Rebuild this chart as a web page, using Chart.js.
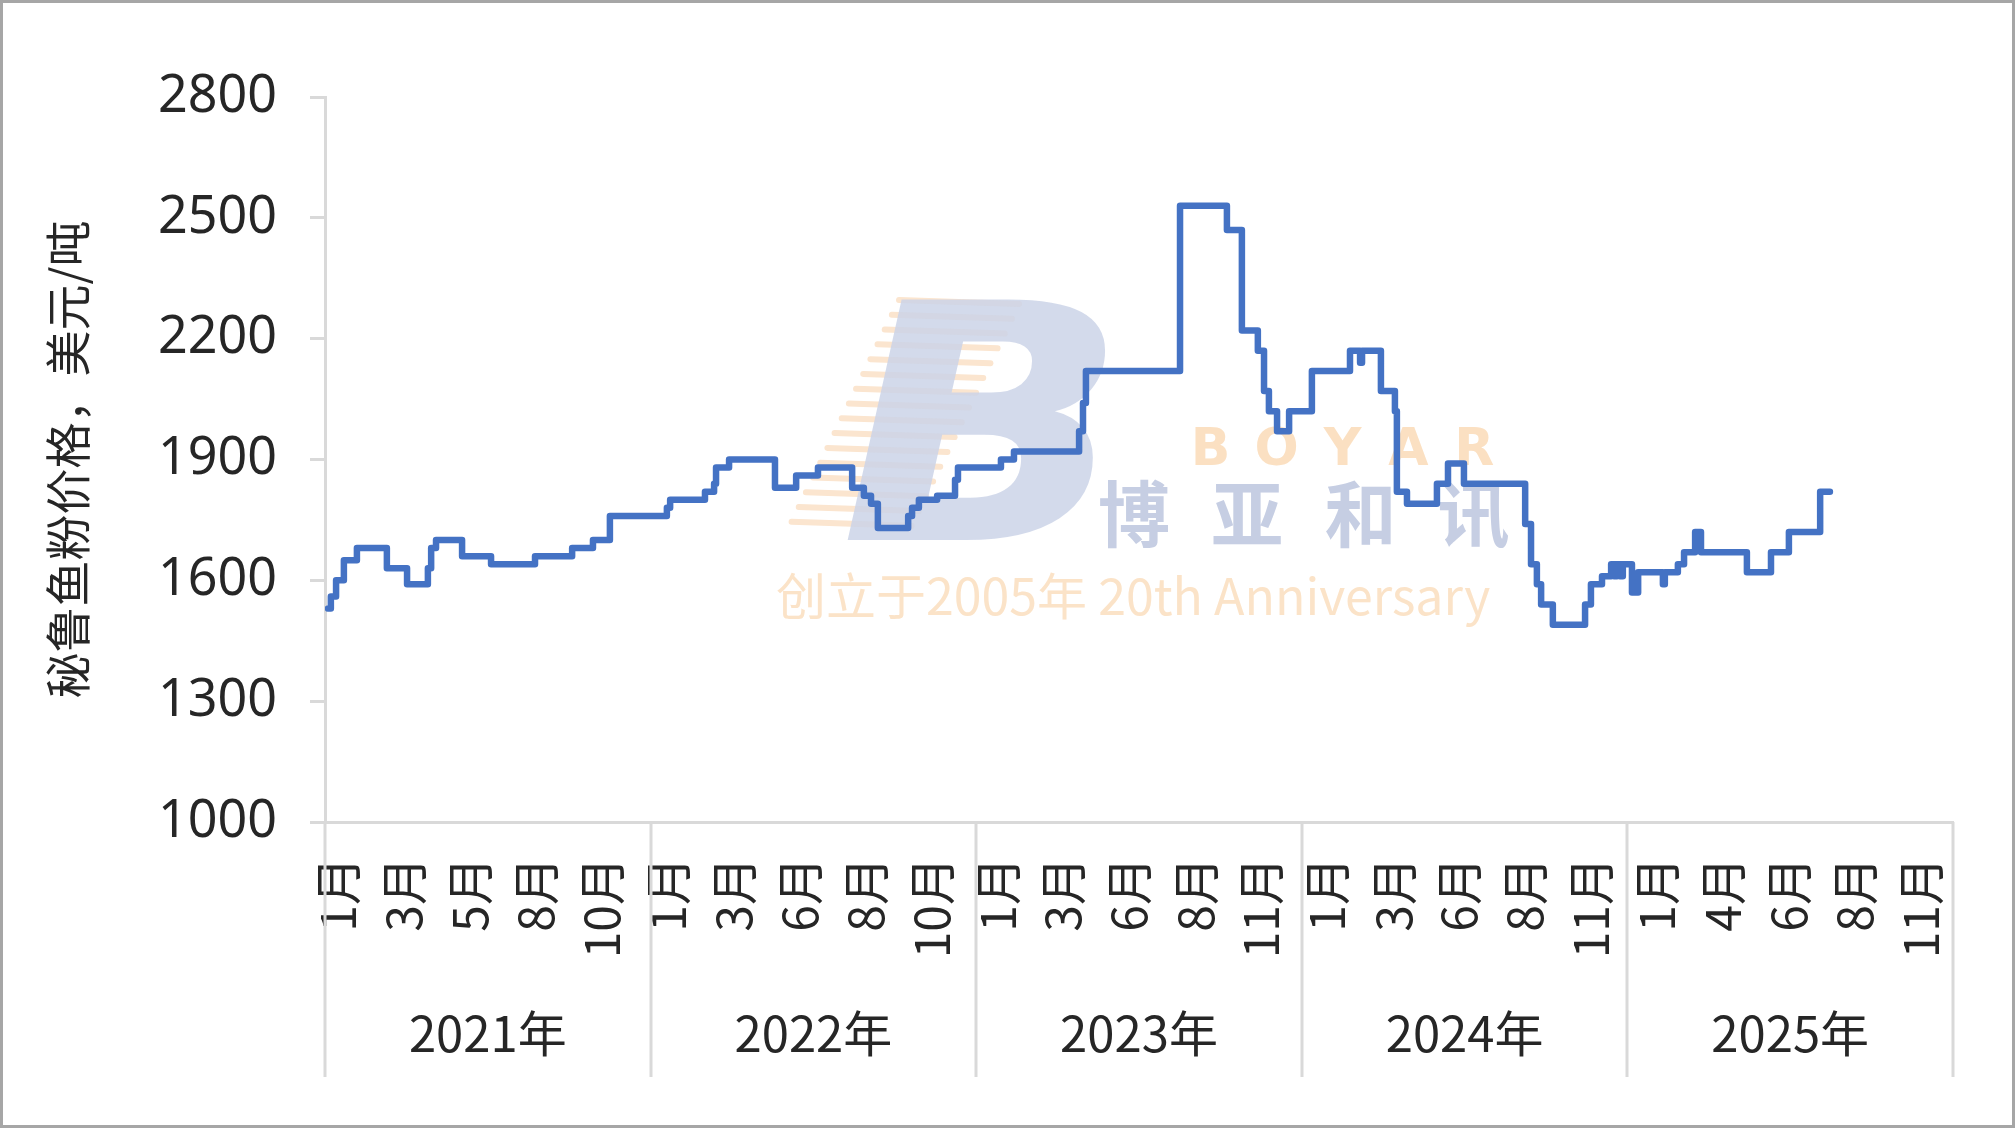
<!DOCTYPE html>
<html><head><meta charset="utf-8">
<script src="https://cdn.jsdelivr.net/npm/chart.js@4.4.1/dist/chart.umd.min.js"></script>
<style>html,body{margin:0;padding:0;background:#fff;}#wrap{width:2015px;height:1128px;}</style>
</head><body><div id="wrap"><canvas id="c" width="2015" height="1128"></canvas></div>
<script>
// x unit: 100 per calendar-year block on the category axis (2021 starts at 0)
const stepX = [0.9,1.8,3.4,5.8,9.8,19.0,25.2,31.6,32.6,34.1,42.1,51.0,64.5,75.9,82.3,87.5,105.0,106.0,116.7,119.5,120.1,124.1,138.2,144.7,151.4,161.9,165.5,167.7,169.8,179.1,180.3,182.4,188.0,193.5,194.4,207.6,211.6,231.6,232.8,233.7,262.6,277.0,281.6,286.5,288.4,289.9,292.4,296.1,303.1,314.8,317.9,318.5,324.3,328.6,329.2,332.3,341.5,344.9,349.8,368.6,370.4,372.2,373.5,377.1,387.0,388.8,392.2,395.0,395.9,396.8,397.7,398.6,401.4,403.3,410.9,411.5,415.5,417.4,420.8,422.6,436.7,444.1,449.6,459.2,462.2];
const price = [1530,1560,1600,1650,1680,1630,1590,1630,1680,1700,1660,1640,1660,1680,1700,1760,1780,1800,1820,1840,1880,1900,1830,1860,1880,1830,1810,1790,1730,1760,1780,1800,1810,1850,1880,1900,1920,1970,2040,2120,2530,2470,2220,2170,2070,2020,1970,2020,2120,2170,2140,2170,2070,2020,1820,1790,1840,1890,1840,1740,1640,1590,1540,1490,1540,1590,1610,1640,1610,1640,1610,1640,1570,1620,1590,1620,1640,1670,1720,1670,1620,1670,1720,1820,1820];
const monthTickPos = [3.8,24.1,44.4,64.6,84.9,105.2,125.4,145.7,166.0,186.2,206.5,226.7,247.0,267.3,287.5,307.8,328.1,348.3,368.6,388.8,409.1,429.4,449.6,469.9,490.2];
const monthLabels = ['1月','3月','5月','8月','10月','1月','3月','6月','8月','10月','1月','3月','6月','8月','11月','1月','3月','6月','8月','11月','1月','4月','6月','8月','11月'];
const yearTickPos = [50,150,250,350,450];
const yearLabels = ['2021年','2022年','2023年','2024年','2025年'];
const yearBounds = [0,100,200,300,400,500];
const yTicks = [1000,1300,1600,1900,2200,2500,2800];

const AXIS = '#d9d9d9';
const TXT = '#262626';
const FONT = '"Noto Sans CJK SC","Noto Sans",sans-serif';
const points = stepX.map((x, i) => ({x: x, y: price[i]}));

const watermark = {
  id: 'watermark',
  beforeDatasetsDraw(chart) {
    const c = chart.ctx, a = chart.chartArea;
    const fx = f => a.left + f * (a.right - a.left);
    const fy = f => a.top + f * (a.bottom - a.top);
    c.save();
    // logo: orange stripes + blue-grey "B"
    c.strokeStyle = '#fbe5cf'; c.lineWidth = 6; c.lineCap = 'round';
    for (let i = 0; i < 16; i++) {
      const y = fy(0.28 + i * 0.0204);
      const x0 = fx(0.3526 - i * 0.0044);
      c.beginPath(); c.moveTo(x0, y); c.lineTo(x0 + 120, y + 4); c.stroke();
    }
    c.fillStyle = 'rgba(203,212,231,0.85)';
    c.font = 'italic bold 330px "DejaVu Sans",sans-serif';
    c.textAlign = 'center'; c.textBaseline = 'alphabetic';
    c.save();
    c.translate(fx(0.405), fy(0.611));
    c.scale(1.15, 1);
    c.fillText('B', 0, 0);
    c.restore();
    c.fillStyle = '#fbe0c2';
    c.font = 'bold 52px "DejaVu Sans",sans-serif';
    ['B','O','Y','A','R'].forEach((ch, i) => c.fillText(ch, fx(0.544 + i * 0.0405), fy(0.507)));
    c.fillStyle = '#c6cee3';
    c.font = 'bold 72px "Noto Sans CJK SC",sans-serif';
    ['博','亚','和','讯'].forEach((ch, i) => c.fillText(ch, fx(0.497 + i * 0.0695), fy(0.612)));
    c.fillStyle = '#fbe3c8';
    c.font = '50px "Noto Sans CJK SC",sans-serif';
    c.textAlign = 'left';
    c.fillText('创立于2005年 20th Anniversary', fx(0.277), fy(0.715));
    c.restore();
  }
};

const separators = {
  id: 'separators',
  afterDraw(chart) {
    const c = chart.ctx, xs = chart.scales.x, x2 = chart.scales.x2, a = chart.chartArea;
    c.save();
    c.strokeStyle = AXIS; c.lineWidth = 3;
    yearBounds.forEach(b => {
      const px = Math.round(xs.getPixelForValue(b));
      c.beginPath(); c.moveTo(px, a.bottom); c.lineTo(px, x2.bottom - 51); c.stroke();
    });
    c.strokeStyle = '#a6a6a6'; c.lineWidth = 3;
    c.strokeRect(1.5, 1.5, chart.width - 3, chart.height - 3);
    c.restore();
  }
};

new Chart(document.getElementById('c'), {
  type: 'line',
  data: { datasets: [{ data: points, borderColor: '#4472C4', borderWidth: 6.5, pointRadius: 0,
    stepped: 'before', fill: false, borderJoinStyle: 'round', borderCapStyle: 'round' }] },
  options: {
    responsive: false, animation: false, devicePixelRatio: 1,
    layout: { padding: { left: 0, right: 62, top: 97, bottom: 0 } },
    plugins: { legend: { display: false }, tooltip: { enabled: false } },
    scales: {
      x: {
        type: 'linear', position: 'bottom', min: 0, max: 500,
        grid: { display: false, drawTicks: false },
        border: { display: true, color: AXIS, width: 3 },
        ticks: { autoSkip: false, minRotation: 90, maxRotation: 90, padding: 35,
          font: { family: FONT, size: 48 }, color: TXT,
          callback: (v, i) => monthLabels[i] },
        afterBuildTicks: s => { s.ticks = monthTickPos.map(v => ({ value: v })); },
        afterFit: s => { s.height = 170; }
      },
      x2: {
        type: 'linear', position: 'bottom', min: 0, max: 500,
        grid: { display: false, drawTicks: false }, border: { display: false },
        ticks: { autoSkip: false, maxRotation: 0, padding: 12,
          font: { family: FONT, size: 49 }, color: TXT,
          callback: (v, i) => yearLabels[i] },
        afterBuildTicks: s => { s.ticks = yearTickPos.map(v => ({ value: v })); },
        afterFit: s => { s.height = 136; }
      },
      y: {
        type: 'linear', min: 1000, max: 2800,
        afterBuildTicks: s => { s.ticks = yTicks.map(v => ({ value: v })); },
        grid: { drawOnChartArea: false, drawTicks: true, tickLength: 15, color: AXIS, lineWidth: 3 },
        border: { display: true, color: AXIS, width: 3 },
        ticks: { font: { family: '"Noto Sans",sans-serif', size: 52 }, color: TXT, padding: 33,
          callback: v => String(v) },
        title: { display: true, text: '秘鲁鱼粉价格，美元/吨', font: { family: FONT, size: 46 }, color: TXT, padding: { top: 40, bottom: 0 } },
        afterFit: s => { s.width = 325; }
      }
    }
  },
  plugins: [watermark, separators]
});
</script></body></html>
